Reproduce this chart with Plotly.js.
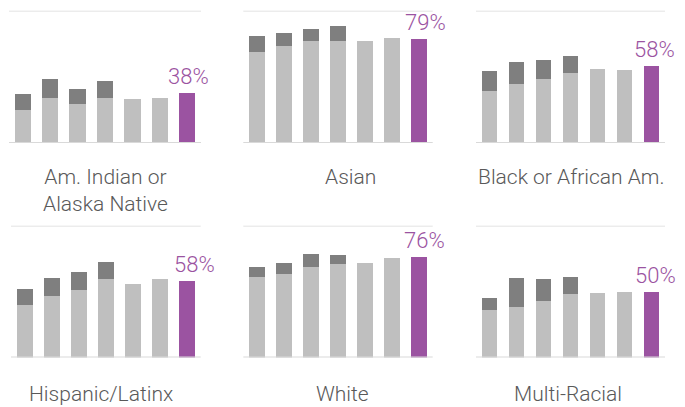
<!DOCTYPE html>
<html>
<head>
<meta charset="utf-8">
<script src="https://cdn.plot.ly/plotly-3.0.1.min.js"></script>
<style>html,body{margin:0;padding:0;background:#fff;}#chart{width:685px;height:407px;}</style>
</head>
<body>
<div id="chart"></div>
<script>
// ---- data ----
const groups = ['Am. Indian or<br>Alaska Native', 'Asian', 'Black or African Am.', 'Hispanic/Latinx', 'White', 'Multi-Racial'];
const positions = [0, 1, 2, 3, 4, 5, 6];
// light gray portion (bars 1-6)
const amIndianLight = [24.8, 34.0, 29.3, 33.8, 33.0, 34.4];
const asianLight    = [68.5, 73.5, 77.0, 76.8, 77.3, 79.5];
const blackLight    = [39.5, 44.3, 48.1, 53.2, 55.7, 55.1];
const hispanicLight = [39.7, 46.8, 51.1, 59.7, 55.9, 59.2];
const whiteLight    = [60.7, 63.4, 68.7, 71.0, 71.7, 75.7];
const multiLight    = [36.1, 38.1, 43.0, 48.3, 48.6, 49.7];
// dark gray portion stacked on bars 1-4
const amIndianDark = [12.2, 14.6, 11.3, 13.2];
const asianDark    = [12.8, 9.4, 9.6, 11.4];
const blackDark    = [14.6, 16.7, 14.9, 12.3];
const hispanicDark = [12.2, 13.7, 13.4, 12.4];
const whiteDark    = [8.2, 8.3, 9.8, 7.0];
const multiDark    = [9.4, 22.3, 16.3, 13.1];
// highlighted latest value (bar 7)
const currentVals = [38, 79, 58, 58, 76, 50];

const lightSeries = [amIndianLight, asianLight, blackLight, hispanicLight, whiteLight, multiLight];
const darkSeries = [amIndianDark, asianDark, blackDark, hispanicDark, whiteDark, multiDark];

// ---- layout config ----
const H = 407, W = 685;
const panelX = [[9, 201], [243.3, 432.7], [476, 665], [11, 200.7], [243.3, 432.7], [476, 665]];
const rowY = [[143, 10.8], [357.5, 225.7]];
const labelCX = [105, 350, 571, 100.7, 342.5, 568];
const labelTop = [163, 163, 163, 380, 380, 380];
const pctShift = [1, 6, 3, 7, 5, 4];

const LIGHT = '#bfbfbf', DARK = '#7f7f7f', PURPLE = '#9b53a1', TXT = '#595959', LINE = '#d9d9d9';
const FONT = 'Roboto, "Open Sans", sans-serif';

const traces = [];
const layout = {
  width: W, height: H, margin: {l: 0, r: 0, t: 0, b: 0},
  paper_bgcolor: '#fff', plot_bgcolor: 'rgba(0,0,0,0)',
  barmode: 'stack', bargap: 0.41, showlegend: false,
  font: {family: FONT, color: TXT},
  shapes: [], annotations: []
};

for (let i = 0; i < 6; i++) {
  const n = i + 1;
  const xa = 'x' + (n === 1 ? '' : n), ya = 'y' + (n === 1 ? '' : n);
  const row = i < 3 ? 0 : 1;
  traces.push({type: 'bar', x: positions.slice(0, 6), y: lightSeries[i], xaxis: xa, yaxis: ya,
    marker: {color: LIGHT, line: {width: 0}}, hoverinfo: 'skip'});
  traces.push({type: 'bar', x: positions.slice(0, 4), y: darkSeries[i], xaxis: xa, yaxis: ya,
    marker: {color: DARK, line: {width: 0}}, hoverinfo: 'skip'});
  traces.push({type: 'bar', x: [positions[6]], y: [currentVals[i]], xaxis: xa, yaxis: ya,
    marker: {color: PURPLE, line: {width: 0}}, hoverinfo: 'skip'});

  layout['xaxis' + (n === 1 ? '' : n)] = {
    domain: [panelX[i][0] / W, panelX[i][1] / W], range: [-0.5, 6.5],
    showgrid: false, zeroline: false, showline: false, showticklabels: false, ticks: '', fixedrange: true
  };
  layout['yaxis' + (n === 1 ? '' : n)] = {
    domain: [1 - rowY[row][0] / H, 1 - rowY[row][1] / H], range: [0, 100],
    showgrid: false, zeroline: false, showline: false, showticklabels: false, ticks: '', fixedrange: true
  };
  const xd = xa + ' domain';
  layout.shapes.push({type: 'line', xref: xd, yref: ya, x0: 0, x1: 1, y0: 100, y1: 100, line: {color: LINE, width: 1.5}, layer: 'below'});
  layout.shapes.push({type: 'line', xref: xd, yref: ya, x0: 0, x1: 1, y0: 0, y1: 0, line: {color: LINE, width: 2}, layer: 'above'});

  layout.annotations.push({xref: xa, yref: ya, x: positions[6], y: currentVals[i], yanchor: 'bottom', xanchor: 'center',
    text: currentVals[i] + '%', showarrow: false, xshift: pctShift[i], yshift: 2,
    font: {family: FONT, size: 22, color: PURPLE, weight: 300}});
  layout.annotations.push({xref: 'paper', yref: 'paper', x: labelCX[i] / W, y: 1 - labelTop[i] / H, yanchor: 'top', xanchor: 'center',
    text: groups[i], showarrow: false, align: 'center',
    font: {family: FONT, size: 21, color: TXT, weight: 300}});
}

Plotly.newPlot('chart', traces, layout, {staticPlot: true, displayModeBar: false});
</script>
</body>
</html>
